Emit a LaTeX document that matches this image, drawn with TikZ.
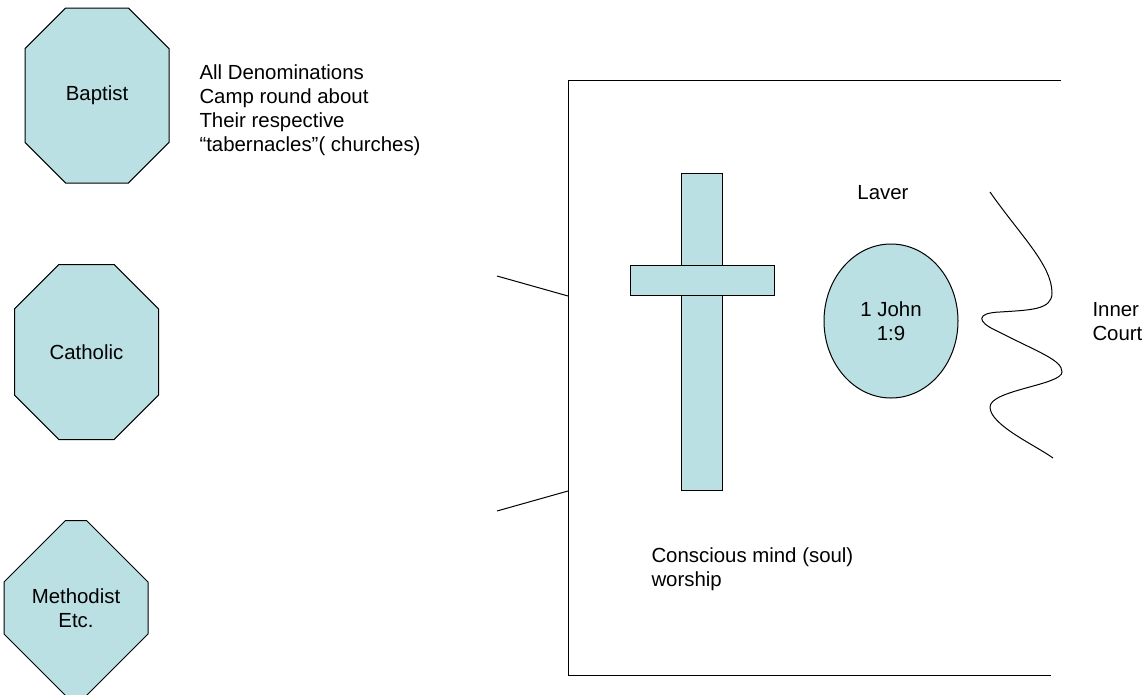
\documentclass[tikz,border=0pt]{standalone}
\usepackage{fontspec}
\setmainfont{Liberation Sans}
\usepackage{tikz}
\usetikzlibrary{shapes.misc,shapes.geometric}
\definecolor{tabfill}{HTML}{BBE0E3}

\begin{document}
\begin{tikzpicture}[x=1pt,y=-1pt,line width=1pt,
    every node/.style={font=\fontsize{20.4}{24}\selectfont,inner sep=0pt},
    church/.style={chamfered rectangle,chamfered rectangle xsep=42pt,chamfered rectangle ysep=42pt,
      draw,fill=tabfill,minimum width=144pt,minimum height=175pt,align=center},
    beam/.style={rectangle,draw,fill=tabfill},
    note/.style={align=left,anchor=west}]
      \useasboundingbox (0,0) rectangle (1146,694);
      \node[church] (baptist) at (97,95.5) {Baptist};
      \node[church] (catholic) at (86.5,352) {Catholic};
      \node[church] (methodist) at (76,608) {Methodist\\Etc.};
      \node[note] (camp) at (199,110.5) {All Denominations\\Camp round about\\Their respective\\“tabernacles”( churches)};
      \coordinate (tr) at (1061,80);
      \coordinate (tl) at (568,80);
      \coordinate (bl) at (568,675);
      \coordinate (br) at (1051,675);
      \draw (tr) -- (tl) -- (bl) -- (br);
      \coordinate (gate1) at (568,296);
      \coordinate (gate2) at (568,491);
      \coordinate (post1) at (497,276);
      \coordinate (post2) at (497,511);
      \draw (post1) -- (gate1);
      \draw (post2) -- (gate2);
      \node[beam,minimum width=41pt,minimum height=317pt] (upright) at (701.5,331.5) {};
      \node[beam,minimum width=144pt,minimum height=30pt] (crossbar) at (702,280) {};
      \node[ellipse,draw,fill=tabfill,minimum width=134pt,minimum height=154pt,align=center] (laver) at (891,321) {1 John\\1:9};
      \node (laverlabel) at (883,192.5) {Laver};
      \draw (990,192) .. controls (1020,235) and (1052,265) .. (1052,293)
        .. controls (1052,310) and (1030,310) .. (1000,312)
        .. controls (975,313) and (978,322) .. (995,330)
        .. controls (1040,353) and (1062,360) .. (1062,372)
        .. controls (1062,385) and (990,390) .. (990,407)
        .. controls (990,425) and (1035,445) .. (1053,458);
      \node[note] (innercourt) at (1092,322) {Inner\\Court};
      \node[note] (mind) at (651,569) {Conscious mind (soul)\\worship};
    \end{tikzpicture}
\end{document}
